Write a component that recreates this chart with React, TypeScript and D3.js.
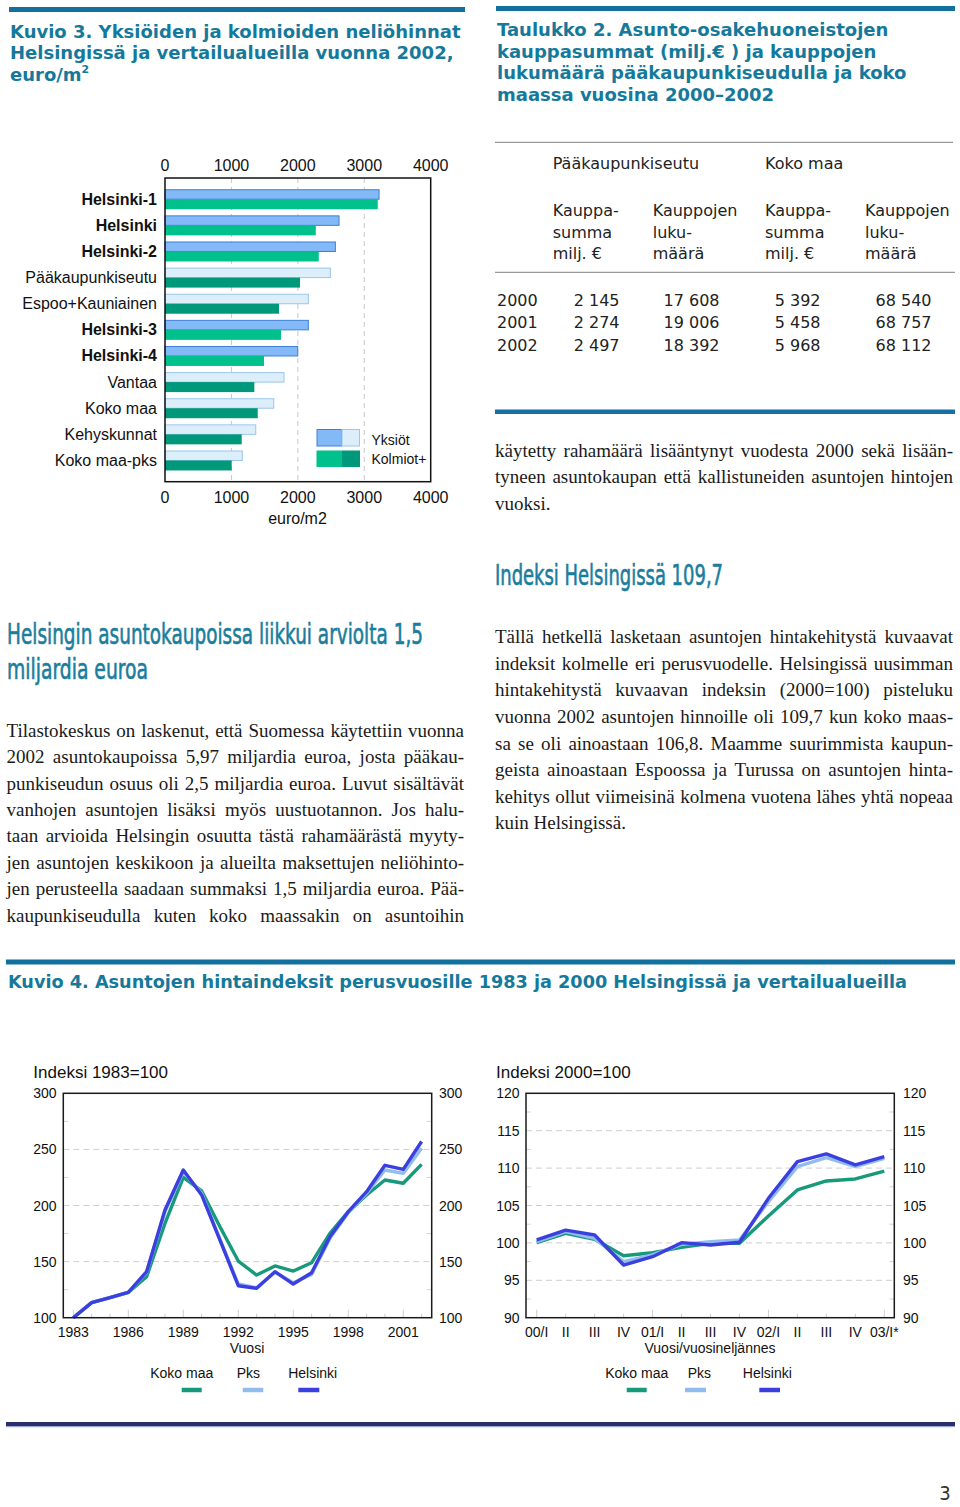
import React, { useEffect, useRef } from 'react';
import * as d3 from 'd3';

// ---------- Kuvio 3: bar chart data ----------
const barCategories = ['Helsinki-1', 'Helsinki', 'Helsinki-2', 'Pääkaupunkiseutu', 'Espoo+Kauniainen', 'Helsinki-3', 'Helsinki-4', 'Vantaa', 'Koko maa', 'Kehyskunnat', 'Koko maa-pks'];
const barBold = [true, true, true, false, false, true, true, false, false, false, false];
const yksiotValues = [3223, 2620, 2565, 2490, 2158, 2158, 1998, 1792, 1637, 1366, 1164];
const kolmiotValues = [3203, 2270, 2315, 2033, 1717, 1747, 1491, 1345, 1396, 1155, 1004];
const barTicks = [0, 1000, 2000, 3000, 4000];
const barLegend = ['Yksiöt', 'Kolmiot+'];

// ---------- Taulukko 2 ----------
const tableGroups = ['Pääkaupunkiseutu', 'Koko maa'];
const tableColHeads = [
  ['Kauppa-', 'summa', 'milj. €'],
  ['Kauppojen', 'luku-', 'määrä'],
  ['Kauppa-', 'summa', 'milj. €'],
  ['Kauppojen', 'luku-', 'määrä'],
];
const tableYears = ['2000', '2001', '2002'];
const pksSumma = ['2 145', '2 274', '2 497'];
const pksLukumaara = ['17 608', '19 006', '18 392'];
const kokoSumma = ['5 392', '5 458', '5 968'];
const kokoLukumaara = ['68 540', '68 757', '68 112'];

// ---------- Kuvio 4 left: index 1983=100 ----------
const indexYears = [1983, 1984, 1985, 1986, 1987, 1988, 1989, 1990, 1991, 1992, 1993, 1994, 1995, 1996, 1997, 1998, 1999, 2000, 2001, 2002];
const kokoMaa1983 = [100, 113.4, 117.8, 122.6, 136.6, 184.1, 225.1, 213, 181.1, 150.5, 138, 146.1, 141.6, 149, 175.2, 194.5, 209.4, 222.7, 219.8, 236.7];
const pks1983 = [100, 113.4, 117.8, 122.6, 140.5, 194.5, 230.2, 210.8, 170, 130, 126.7, 140.5, 131.2, 138.6, 170.7, 193.5, 211, 231.6, 228.7, 251];
const helsinki1983 = [100, 113.4, 117.8, 122.6, 141, 196, 231.6, 209.4, 169.2, 128.5, 126.2, 141, 130, 140.1, 172.2, 194.5, 212.3, 235.8, 232.2, 257];
const indexTicks1983 = [100, 150, 200, 250, 300];
const yearLabels = [1983, 1986, 1989, 1992, 1995, 1998, 2001];

// ---------- Kuvio 4 right: index 2000=100 ----------
const quarterLabels = ['00/I', 'II', 'III', 'IV', '01/I', 'II', 'III', 'IV', '02/I', 'II', 'III', 'IV', '03/I*'];
const kokoMaa2000 = [100.03, 101.28, 100.48, 98.29, 98.69, 99.4, 99.94, 99.94, 103.6, 107.08, 108.28, 108.55, 109.6];
const pks2000 = [100.16, 101.5, 100.6, 97.5, 98.4, 99.8, 100.16, 100.39, 105.5, 110.2, 111.4, 110.2, 111.3];
const helsinki2000 = [100.39, 101.7, 101.06, 97.04, 98.16, 100.03, 99.72, 100.08, 105.96, 110.86, 111.89, 110.42, 111.53];
const indexTicks2000 = [90, 95, 100, 105, 110, 115, 120];

const legendNames = ['Koko maa', 'Pks', 'Helsinki'];
const seriesColors = ['#179a7b', '#90bdee', '#3b3fe0'];

// ---------- texts ----------
const titleK3 = ['Kuvio 3.  Yksiöiden ja kolmioiden neliöhinnat', 'Helsingissä ja vertailualueilla vuonna 2002,'];
const titleT2 = ['Taulukko 2.  Asunto-osakehuoneistojen', 'kauppasummat (milj.€ ) ja kauppojen', 'lukumäärä pääkaupunkiseudulla ja koko', 'maassa vuosina 2000–2002'];
const heading1 = ['Helsingin asuntokaupoissa liikkui arviolta 1,5', 'miljardia euroa'];
const heading2 = 'Indeksi Helsingissä 109,7';
const paraLeft = [
  'Tilastokeskus on laskenut, että Suomessa käytettiin vuonna',
  '2002 asuntokaupoissa 5,97 miljardia euroa, josta pääkau-',
  'punkiseudun osuus oli 2,5 miljardia euroa. Luvut sisältävät',
  'vanhojen asuntojen lisäksi myös uustuotannon. Jos halu-',
  'taan arvioida Helsingin osuutta tästä rahamäärästä myyty-',
  'jen asuntojen keskikoon ja alueilta maksettujen neliöhinto-',
  'jen perusteella saadaan summaksi 1,5 miljardia euroa. Pää-',
  'kaupunkiseudulla kuten koko maassakin on asuntoihin',
];
const paraRight1 = [
  'käytetty rahamäärä lisääntynyt vuodesta 2000 sekä lisään-',
  'tyneen asuntokaupan että kallistuneiden asuntojen hintojen',
  'vuoksi.',
];
const paraRight2 = [
  'Tällä hetkellä lasketaan asuntojen hintakehitystä kuvaavat',
  'indeksit kolmelle eri perusvuodelle. Helsingissä uusimman',
  'hintakehitystä kuvaavan indeksin (2000=100) pisteluku',
  'vuonna 2002 asuntojen hinnoille oli 109,7 kun koko maas-',
  'sa se oli ainoastaan 106,8. Maamme suurimmista kaupun-',
  'geista ainoastaan Espoossa ja Turussa on asuntojen hinta-',
  'kehitys ollut viimeisinä kolmena vuotena lähes yhtä nopeaa',
  'kuin Helsingissä.',
];
const titleK4 = 'Kuvio 4. Asuntojen hintaindeksit perusvuosille 1983 ja 2000 Helsingissä ja vertailualueilla';

const TEAL = '#15799c';
const BAR = '#11709d';
const SANS = "'Liberation Sans', Arial, sans-serif";
const VERD = "'DejaVu Sans', Verdana, sans-serif";
const SERIF = "'Liberation Serif', 'Times New Roman', serif";
const NARROW = "'Liberation Sans Narrow', 'DejaVu Sans Condensed', 'Liberation Sans', sans-serif";

type Sel = d3.Selection<any, unknown, null, undefined>;

function justify(g: Sel, line: string, x0: number, x1: number, y: number, last: boolean) {
  if (last) {
    g.append('text').attr('x', x0).attr('y', y).text(line);
    return;
  }
  const words = line.split(' ');
  const nodes = words.map((w) => g.append('text').attr('y', y).text(w));
  const widths = nodes.map((n) => (n.node() as SVGTextElement).getComputedTextLength());
  const gap = (x1 - x0 - d3.sum(widths)) / Math.max(1, words.length - 1);
  let x = x0;
  nodes.forEach((n, i) => {
    n.attr('x', x);
    x += widths[i] + gap;
  });
}

function drawPage(svg: Sel) {
  svg.selectAll('*').remove();
  svg.append('rect').attr('width', 960).attr('height', 1507).attr('fill', '#fff');

  // ---- top bars & titles
  svg.append('rect').attr('x', 9).attr('y', 7).attr('width', 456).attr('height', 5).attr('fill', BAR);
  svg.append('rect').attr('x', 496).attr('y', 6).attr('width', 459).attr('height', 5).attr('fill', BAR);

  const tg = svg.append('g').attr('font-family', VERD).attr('font-weight', 'bold').attr('font-size', 18).attr('fill', TEAL);
  titleK3.forEach((l, i) => tg.append('text').attr('x', 10).attr('y', 37.5 + i * 21.6).text(l));
  const t3 = tg.append('text').attr('x', 10).attr('y', 80.7);
  t3.append('tspan').text('euro/m');
  t3.append('tspan').attr('font-size', 11).attr('dy', -8).text('2');
  titleT2.forEach((l, i) => tg.append('text').attr('x', 497).attr('y', 36 + i * 21.6).text(l));

  // ---- bar chart
  const bx = d3.scaleLinear().domain([0, 4000]).range([165, 430.7]);
  const by = d3.scaleBand<string>().domain(barCategories).range([178, 481.7]).paddingInner(0.235).paddingOuter(0.43);
  const bw = by.bandwidth();
  const bg = svg.append('g');
  bg.selectAll('line.grid').data(barTicks.slice(1, 4)).join('line')
    .attr('x1', (d) => bx(d)).attr('x2', (d) => bx(d)).attr('y1', 178).attr('y2', 481.7)
    .attr('stroke', '#c8c8c8').attr('stroke-width', 1).attr('stroke-dasharray', '5,4');
  barCategories.forEach((c, i) => {
    const y0 = by(c) as number;
    bg.append('rect').attr('x', bx(0)).attr('y', y0 + 0.5).attr('width', bx(yksiotValues[i]) - bx(0)).attr('height', bw / 2 - 0.5)
      .attr('fill', barBold[i] ? '#82b9f6' : '#ddeefb').attr('stroke', barBold[i] ? '#3f80d8' : '#9cc6ec').attr('stroke-width', 1);
    bg.append('rect').attr('x', bx(0)).attr('y', y0 + bw / 2).attr('width', bx(kolmiotValues[i]) - bx(0)).attr('height', bw / 2)
      .attr('fill', barBold[i] ? '#00c08b' : '#00987a');
    bg.append('text').attr('x', 157).attr('y', y0 + bw / 2 + 5.5).attr('text-anchor', 'end')
      .attr('font-family', SANS).attr('font-size', 16).attr('font-weight', barBold[i] ? 'bold' : 'normal').attr('fill', '#111').text(c);
  });
  bg.append('rect').attr('x', 165).attr('y', 178).attr('width', 265.7).attr('height', 303.7).attr('fill', 'none').attr('stroke', '#111').attr('stroke-width', 1.5);
  [170.5, 502.5].forEach((ty) => {
    bg.selectAll(null).data(barTicks).join('text').attr('x', (d) => bx(d)).attr('y', ty).attr('text-anchor', 'middle')
      .attr('font-family', SANS).attr('font-size', 16).attr('fill', '#111').text((d) => String(d));
  });
  bg.append('text').attr('x', 297.5).attr('y', 523.5).attr('text-anchor', 'middle').attr('font-family', SANS).attr('font-size', 16).attr('fill', '#111').text('euro/m2');
  // legend
  bg.append('rect').attr('x', 317).attr('y', 429.5).attr('width', 25).attr('height', 16.5).attr('fill', '#82b9f6').attr('stroke', '#3f80d8');
  bg.append('rect').attr('x', 342).attr('y', 429.5).attr('width', 17.5).attr('height', 16.5).attr('fill', '#ddeefb').attr('stroke', '#9cc6ec');
  bg.append('rect').attr('x', 316.5).attr('y', 450.5).attr('width', 25.5).attr('height', 16.5).attr('fill', '#00c08b');
  bg.append('rect').attr('x', 342).attr('y', 450.5).attr('width', 18).attr('height', 16.5).attr('fill', '#00987a');
  barLegend.forEach((l, i) => bg.append('text').attr('x', 371.5).attr('y', 445 + i * 18.5).attr('font-family', SANS).attr('font-size', 14).attr('fill', '#111').text(l));

  // ---- table
  const tb = svg.append('g').attr('font-family', VERD).attr('font-size', 16).attr('fill', '#222');
  tb.append('line').attr('x1', 495).attr('x2', 953).attr('y1', 142.3).attr('y2', 142.3).attr('stroke', '#9a9a9a').attr('stroke-width', 1.3);
  tb.append('line').attr('x1', 495).attr('x2', 955).attr('y1', 272.3).attr('y2', 272.3).attr('stroke', '#9a9a9a').attr('stroke-width', 1.3);
  tb.append('rect').attr('x', 495).attr('y', 409.5).attr('width', 460).attr('height', 4.5).attr('fill', '#176fa6');
  const colX = [552.7, 652.7, 765, 865];
  const colR = [619.5, 719.5, 820.5, 931.5];
  tableGroups.forEach((gname, i) => tb.append('text').attr('x', colX[i * 2]).attr('y', 169).text(gname));
  tableColHeads.forEach((lines, c) => lines.forEach((l, r) => tb.append('text').attr('x', colX[c]).attr('y', 216 + r * 21.7).text(l)));
  const cols = [pksSumma, pksLukumaara, kokoSumma, kokoLukumaara];
  tableYears.forEach((yv, r) => {
    const y = 305.7 + r * 22.7;
    tb.append('text').attr('x', 497).attr('y', y).text(yv);
    cols.forEach((col, c) => tb.append('text').attr('x', colR[c]).attr('y', y).attr('text-anchor', 'end').text(col[r]));
  });

  // ---- headings (condensed, medium weight)
  const hg = svg.append('g').attr('font-family', NARROW).attr('font-weight', 'normal').attr('font-size', 28)
    .attr('fill', '#1a7d9d').attr('stroke', '#1a7d9d').attr('stroke-width', 0.6);
  hg.append('text').attr('x', 7).attr('y', 644).attr('textLength', 416).attr('lengthAdjust', 'spacingAndGlyphs').text(heading1[0]);
  hg.append('text').attr('x', 7).attr('y', 678.5).attr('textLength', 141).attr('lengthAdjust', 'spacingAndGlyphs').text(heading1[1]);
  hg.append('text').attr('x', 495).attr('y', 585).attr('textLength', 228).attr('lengthAdjust', 'spacingAndGlyphs').text(heading2);

  // ---- body text
  const pg = svg.append('g').attr('font-family', SERIF).attr('font-size', 19).attr('fill', '#1a1a1a');
  paraLeft.forEach((l, i) => justify(pg, l, 6.5, 464, 736.7 + i * 26.43, false));
  paraRight1.forEach((l, i) => justify(pg, l, 495, 953, 456.7 + i * 26.65, i === paraRight1.length - 1));
  paraRight2.forEach((l, i) => justify(pg, l, 495, 953, 643.3 + i * 26.57, i === paraRight2.length - 1));

  // ---- Kuvio 4 title
  svg.append('rect').attr('x', 6).attr('y', 959.5).attr('width', 949).attr('height', 5).attr('fill', BAR);
  svg.append('text').attr('x', 8).attr('y', 988).attr('font-family', VERD).attr('font-weight', 'bold').attr('font-size', 17)
    .attr('fill', TEAL).attr('textLength', 899).attr('lengthAdjust', 'spacingAndGlyphs').text(titleK4);

  // ---- line charts
  const top = 1093.3, bottom = 1317.7;
  const drawLineChart = (opts: {
    left: number; right: number; x0: number; x1: number; domainY: [number, number]; ticks: number[];
    n: number; labels: { i: number; t: string }[]; series: number[][]; title: string; xTitle: string; xTitleX: number;
    leftLabelX: number; rightLabelX: number; legendTextX: number[]; swatchX: [number, number][]; minorStep: number;
    majorEvery: number;
  }) => {
    const g = svg.append('g');
    const x = d3.scaleLinear().domain([0, opts.n - 1]).range([opts.x0, opts.x1]);
    const y = d3.scaleLinear().domain(opts.domainY).range([bottom, top]);
    g.selectAll(null).data(opts.ticks.slice(1, -1)).join('line')
      .attr('x1', opts.left).attr('x2', opts.right).attr('y1', (d) => y(d)).attr('y2', (d) => y(d))
      .attr('stroke', '#cfcfcf').attr('stroke-width', 1).attr('stroke-dasharray', '6,4');
    const minor = d3.range(opts.domainY[0] + opts.minorStep, opts.domainY[1], opts.minorStep * 2);
    g.selectAll(null).data(minor).join('line')
      .attr('x1', opts.left).attr('x2', opts.left + 5).attr('y1', (d) => y(d)).attr('y2', (d) => y(d)).attr('stroke', '#d4d4d4');
    g.selectAll(null).data(minor).join('line')
      .attr('x1', opts.right - 5).attr('x2', opts.right).attr('y1', (d) => y(d)).attr('y2', (d) => y(d)).attr('stroke', '#d4d4d4');
    g.selectAll(null).data(d3.range(opts.n)).join('line')
      .attr('x1', (d) => x(d)).attr('x2', (d) => x(d)).attr('y1', bottom).attr('y2', (d) => bottom - (d % opts.majorEvery === 0 ? 8 : 4))
      .attr('stroke', '#cfcfcf');
    const line = d3.line<number>().x((_, i) => x(i)).y((d) => y(d));
    opts.series.forEach((s, k) => {
      g.append('path').attr('d', line(s) as string).attr('fill', 'none').attr('stroke', seriesColors[k])
        .attr('stroke-width', 3.4).attr('stroke-linejoin', 'round');
    });
    g.append('rect').attr('x', opts.left).attr('y', top).attr('width', opts.right - opts.left).attr('height', bottom - top)
      .attr('fill', 'none').attr('stroke', '#1a1a1a').attr('stroke-width', 1.5);
    const tf = g.append('g').attr('font-family', SANS).attr('font-size', 14).attr('fill', '#111');
    opts.ticks.forEach((t) => {
      tf.append('text').attr('x', opts.leftLabelX).attr('y', y(t) + 5).attr('text-anchor', 'end').text(String(t));
      tf.append('text').attr('x', opts.rightLabelX).attr('y', y(t) + 5).text(String(t));
    });
    opts.labels.forEach((l) => tf.append('text').attr('x', x(l.i)).attr('y', 1336.5).attr('text-anchor', 'middle').text(l.t));
    tf.append('text').attr('x', opts.xTitleX).attr('y', 1353.3).attr('text-anchor', 'middle').text(opts.xTitle);
    tf.append('text').attr('x', opts.left - 30).attr('y', 1077.5).attr('font-size', 17).text(opts.title);
    legendNames.forEach((nm, k) => {
      tf.append('text').attr('x', opts.legendTextX[k]).attr('y', 1378.3).attr('text-anchor', 'middle').text(nm);
      g.append('line').attr('x1', opts.swatchX[k][0]).attr('x2', opts.swatchX[k][1]).attr('y1', 1390).attr('y2', 1390)
        .attr('stroke', seriesColors[k]).attr('stroke-width', 4.5);
    });
  };

  drawLineChart({
    left: 63.3, right: 431.7, x0: 73.3, x1: 421.6, domainY: [100, 300], ticks: indexTicks1983,
    n: indexYears.length,
    labels: yearLabels.map((yr) => ({ i: indexYears.indexOf(yr), t: String(yr) })),
    series: [kokoMaa1983, pks1983, helsinki1983], title: 'Indeksi 1983=100', xTitle: 'Vuosi', xTitleX: 247,
    leftLabelX: 56.5, rightLabelX: 439, legendTextX: [181.7, 248.3, 312.7],
    swatchX: [[181.7, 201.7], [242.7, 263.3], [298.3, 319.3]], minorStep: 25, majorEvery: 3,
  });
  drawLineChart({
    left: 526, right: 894.3, x0: 536.7, x1: 884.3, domainY: [90, 120], ticks: indexTicks2000,
    n: quarterLabels.length,
    labels: quarterLabels.map((t, i) => ({ i, t })),
    series: [kokoMaa2000, pks2000, helsinki2000], title: 'Indeksi 2000=100', xTitle: 'Vuosi/vuosineljännes', xTitleX: 710,
    leftLabelX: 519.5, rightLabelX: 903, legendTextX: [636.7, 699.3, 767.3],
    swatchX: [[626.7, 646.7], [685, 706], [759.3, 780]], minorStep: 2.5, majorEvery: 4,
  });

  // ---- bottom rule & page number
  svg.append('rect').attr('x', 6).attr('y', 1422).attr('width', 949).attr('height', 4).attr('fill', '#2c2e6c');
  svg.append('rect').attr('x', 6).attr('y', 1426).attr('width', 949).attr('height', 1.2).attr('fill', '#9aa8da');
  svg.append('text').attr('x', 945).attr('y', 1500).attr('text-anchor', 'middle')
    .attr('font-family', NARROW).attr('font-size', 20).attr('fill', '#333').text('3');
}

export default function App() {
  const ref = useRef<SVGSVGElement>(null);
  useEffect(() => {
    const svg = d3.select(ref.current) as unknown as Sel;
    drawPage(svg);
    if ((document as any).fonts && (document as any).fonts.ready) {
      (document as any).fonts.ready.then(() => drawPage(svg));
    }
  }, []);
  return (
    <svg ref={ref} width={960} height={1507} style={{ position: 'absolute', left: 0, top: 0, display: 'block' }} />
  );
}
